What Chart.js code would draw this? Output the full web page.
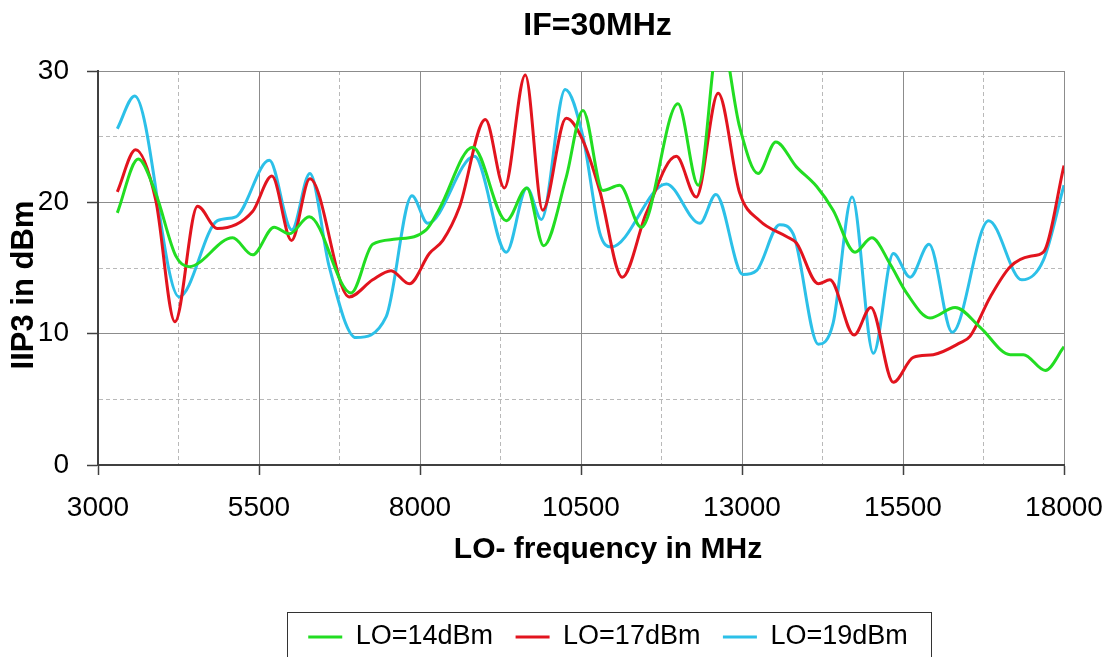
<!DOCTYPE html>
<html>
<head>
<meta charset="utf-8">
<script src="https://cdn.jsdelivr.net/npm/chart.js@4.4.1/dist/chart.umd.min.js"></script>
<style>
html,body{margin:0;padding:0;background:#fff;}
#wrap{position:relative;width:1112px;height:657px;}
</style>
</head>
<body>
<div id="wrap"><canvas id="c" width="1112" height="657"></canvas></div>
<script>
// ---- text ----
const chartTitle = 'IF=30MHz';
const xAxisTitle = 'LO- frequency in MHz';
const yAxisTitle = 'IIP3 in dBm';
const seriesNames = ['LO=14dBm', 'LO=17dBm', 'LO=19dBm'];

// ---- axes ----
const xMin = 3000, xMax = 18000, xMajorStep = 2500, xMinorStep = 1250;
const yMin = 0, yMax = 30, yMajorStep = 10, yMinorStep = 5;
const xTickLabels = [3000, 5500, 8000, 10500, 13000, 15500, 18000];
const yTickLabels = [0, 10, 20, 30];

// ---- data: LO = 14 dBm ----
const freq14 = [3300, 3625, 3895, 4210, 4415, 5090, 5400, 5735, 5970, 6280, 6930, 7265, 7630, 8095, 8300, 8820, 9340, 9660, 9920, 10270, 10530, 10840, 11100, 11435, 12005, 12320, 12655, 12965, 13250, 13525, 13845, 14160, 14415, 14755, 15015, 15300, 15555, 15920, 16310, 16695, 17165, 17370, 17710, 18000];
const iip14  = [19.2, 23.3, 20.7, 15.9, 15.1, 17.3, 16.0, 18.1, 17.6, 18.9, 13.1, 16.8, 17.2, 17.9, 19.5, 24.2, 18.6, 21.1, 16.7, 21.9, 27.0, 20.9, 21.3, 18.1, 27.5, 21.3, 33.0, 25.7, 22.2, 24.6, 22.7, 21.2, 19.4, 16.2, 17.3, 15.3, 13.1, 11.2, 12.0, 10.5, 8.4, 8.4, 7.2, 9.0];

// ---- data: LO = 17 dBm ----
const freq17 = [3300, 3585, 3895, 4195, 4545, 4855, 5400, 5700, 6005, 6290, 6900, 7265, 7550, 7835, 8145, 8355, 8610, 9015, 9310, 9635, 9905, 10270, 10530, 10790, 11140, 11515, 11980, 12290, 12630, 12965, 13275, 13690, 13845, 14185, 14365, 14740, 15000, 15350, 15660, 15970, 16385, 16540, 16855, 17165, 17475, 17680, 18000];
const iip17  = [20.8, 24.0, 20.2, 10.9, 19.7, 18.0, 19.3, 22.0, 17.1, 21.8, 12.8, 14.1, 14.8, 13.8, 16.1, 17.1, 19.6, 26.3, 21.1, 29.7, 19.4, 26.4, 24.7, 20.9, 14.3, 19.2, 23.5, 20.4, 28.3, 20.7, 18.6, 17.4, 16.9, 13.8, 14.1, 9.9, 12.0, 6.3, 8.2, 8.4, 9.3, 9.8, 12.8, 15.1, 15.9, 16.2, 22.8];

// ---- data: LO = 19 dBm ----
const freq19 = [3300, 3570, 4260, 4855, 5140, 5660, 6010, 6290, 6590, 7005, 7475, 7875, 8120, 8845, 9340, 9660, 9885, 10255, 10530, 10790, 10970, 11825, 12345, 12595, 13015, 13225, 13585, 13795, 14185, 14415, 14710, 15040, 15350, 15610, 15905, 16265, 16830, 17345, 17680, 18000];
const iip19  = [25.6, 28.1, 12.8, 18.6, 18.9, 23.2, 17.9, 22.2, 15.1, 9.7, 11.3, 20.5, 18.4, 23.5, 16.2, 21.1, 18.7, 28.6, 25.0, 17.7, 16.6, 21.4, 18.4, 20.6, 14.5, 14.8, 18.3, 17.6, 9.2, 10.8, 20.4, 8.5, 16.1, 14.3, 16.8, 10.1, 18.6, 14.1, 15.6, 21.3];

const seriesColors = ['#22dd22', '#e2141e', '#2cc0e8'];

// ---- helpers ----
const FONT = "'Liberation Sans', Arial, Helvetica, sans-serif";
const toPts = (xs, ys) => xs.map((x, i) => ({ x: x, y: ys[i] }));
const isMajorX = v => ((v - xMin) % xMajorStep) === 0;
const isMajorY = v => ((v - yMin) % yMajorStep) === 0;

const layoutTweaks = {
  id: 'layoutTweaks',
  afterLayout(chart) {
    const t = chart.titleBlock;
    if (t) { const dx = 597.5 - (t.left + t.right) / 2; t.left += dx; t.right += dx; }
    const lg = chart.legend;
    if (lg) { lg.left += 76; lg.right += 76; lg.top += 3.5; lg.bottom += 3.5; }
  },
  afterDraw(chart) {
    const c = chart.ctx;
    c.save();
    c.fillStyle = '#000';
    c.textAlign = 'center';
    c.textBaseline = 'middle';
    c.font = 'bold 30px ' + FONT;
    c.fillText(xAxisTitle, 608, 550);
    c.translate(24, 285);
    c.rotate(-Math.PI / 2);
    c.font = 'bold 31px ' + FONT;
    c.fillText(yAxisTitle, 0, 0);
    c.restore();
    c.save();
    c.strokeStyle = '#333';
    c.lineWidth = 1;
    c.strokeRect(287.5, 612.5, 644, 60);
    c.restore();
  }
};

const mkDs = (i, xs, ys) => ({
  label: seriesNames[i],
  data: toPts(xs, ys),
  borderColor: seriesColors[i],
  backgroundColor: seriesColors[i],
  borderWidth: 3,
  pointRadius: 0,
  fill: false,
  cubicInterpolationMode: 'monotone'
});

new Chart(document.getElementById('c'), {
  type: 'line',
  data: {
    datasets: [
      mkDs(0, freq14, iip14),
      mkDs(1, freq17, iip17),
      mkDs(2, freq19, iip19)
    ]
  },
  options: {
    responsive: false,
    animation: false,
    events: [],
    layout: { padding: { top: 0, left: 0, right: 48, bottom: 0 } },
    plugins: {
      tooltip: { enabled: false },
      title: {
        display: true,
        text: chartTitle,
        color: '#000',
        font: { family: FONT, size: 32, weight: 'bold', lineHeight: 1.2 },
        padding: { top: 7, bottom: 25.6 }
      },
      legend: {
        display: true,
        position: 'bottom',
        labels: {
          color: '#000',
          font: { family: FONT, size: 27 },
          usePointStyle: true,
          pointStyle: 'line',
          pointStyleWidth: 34,
          padding: 22.5
        }
      }
    },
    scales: {
      x: {
        type: 'linear',
        min: xMin,
        max: xMax,
        afterFit: s => { s.height = 132.5; s.paddingLeft = 0; s.paddingRight = 0; },
        ticks: {
          stepSize: xMinorStep,
          autoSkip: false,
          maxRotation: 0,
          padding: 16,
          color: '#000',
          font: { family: FONT, size: 28 },
          callback: v => xTickLabels.includes(v) ? String(v) : ''
        },
        grid: {
          color: c => (c.tick && isMajorX(c.tick.value)) ? '#8c8c8c' : '#b9b9b9',
          lineWidth: 1,
          tickLength: 10,
          tickWidth: 1.5,
          tickColor: c => (c.tick && isMajorX(c.tick.value)) ? '#404040' : 'rgba(0,0,0,0)'
        },
        border: {
          display: true,
          color: '#404040',
          width: 2,
          dash: c => (c.tick && !isMajorX(c.tick.value)) ? [4, 3] : []
        }
      },
      y: {
        type: 'linear',
        min: yMin,
        max: yMax,
        afterFit: s => { s.width = 98; },
        ticks: {
          stepSize: yMinorStep,
          autoSkip: false,
          padding: 18,
          color: '#000',
          font: { family: FONT, size: 28 },
          callback: v => yTickLabels.includes(v) ? String(v) : ''
        },
        grid: {
          color: c => (c.tick && isMajorY(c.tick.value)) ? '#8c8c8c' : '#b9b9b9',
          lineWidth: 1,
          tickLength: 11,
          tickWidth: 1.5,
          tickColor: c => (c.tick && isMajorY(c.tick.value)) ? '#404040' : 'rgba(0,0,0,0)'
        },
        border: {
          display: true,
          color: '#404040',
          width: 2,
          dash: c => (c.tick && !isMajorY(c.tick.value)) ? [4, 3] : []
        }
      }
    }
  },
  plugins: [layoutTweaks]
});
</script>
</body>
</html>
